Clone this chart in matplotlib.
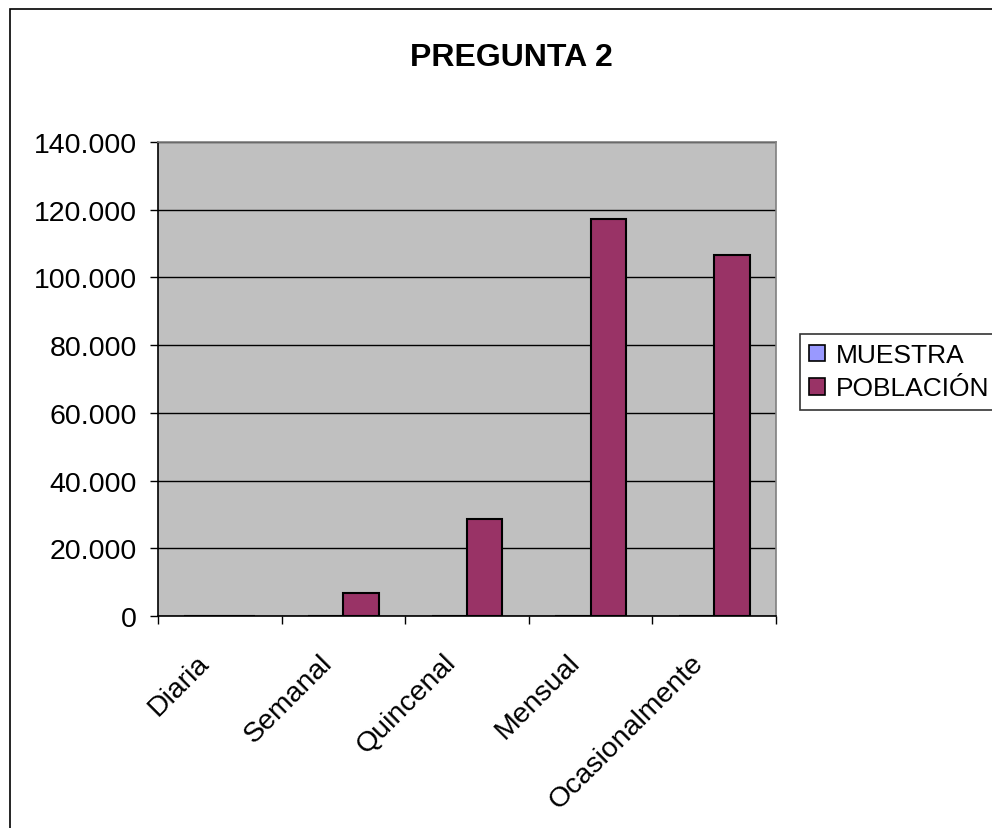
import matplotlib
matplotlib.use("Agg")
import matplotlib.pyplot as plt
from matplotlib.patches import Rectangle, Patch
from matplotlib.ticker import FuncFormatter, FixedLocator, NullFormatter
from matplotlib.transforms import ScaledTranslation
import numpy as np

plt.rcParams['font.family'] = ['Liberation Sans', 'DejaVu Sans']

categories = ["Diaria", "Semanal", "Quincenal", "Mensual", "Ocasionalmente"]
muestra = [0, 0, 0, 0, 0]
poblacion = [0, 6800, 28600, 117300, 106600]
series_names = ["MUESTRA", "POBLACIÓN"]
title = "PREGUNTA 2"

W, H = 992, 829
fig = plt.figure(figsize=(W / 100, H / 100), dpi=100)
fig.patch.set_facecolor("white")

# chart-area border (runs off the right and bottom edges)
fig.add_artist(Rectangle((10 / W, -0.1), 1.2, (H - 10) / H + 0.1,
                         transform=fig.transFigure, fill=False,
                         edgecolor="black", lw=1.2))

left, right, top, bottom = 158, 776, 143, 617
ax = fig.add_axes([left / W, (H - bottom) / H, (right - left) / W, (bottom - top) / H])
ax.set_facecolor("#C0C0C0")

n = len(categories)
centers = np.arange(n) + 0.5
bw = 1 / 3.5
ax.bar(centers - bw / 2, muestra, width=bw, color="#9999FF", edgecolor="black",
       lw=1.5, zorder=3)
ax.bar(centers + bw / 2, poblacion, width=bw, color="#993366", edgecolor="black",
       lw=1.5, zorder=3)

ax.set_xlim(0, n)
ax.set_ylim(0, 140000)
ax.set_yticks(np.arange(0, 140001, 20000))
ax.yaxis.set_major_formatter(FuncFormatter(lambda v, p: f"{int(v):,}".replace(",", ".")))
ax.grid(axis="y", color="black", lw=1, zorder=1)
ax.set_axisbelow(True)

# category boundaries carry the tick marks; names sit under each group
ax.xaxis.set_major_locator(FixedLocator(np.arange(n + 1)))
ax.xaxis.set_major_formatter(NullFormatter())
ax.tick_params(axis="x", which="major", length=6, width=1, direction="out", color="black")
ax.tick_params(axis="y", length=6, width=1, direction="out", labelsize=20.5, pad=9)

label_tf = ax.get_xaxis_transform() + ScaledTranslation(-0.24, -0.33, fig.dpi_scale_trans)
for c, cat in zip(centers, categories):
    ax.text(c, 0, cat, transform=label_tf, rotation=45, ha="right", va="top",
            rotation_mode="anchor", fontsize=20.5)

for s in ("top", "right"):
    ax.spines[s].set_color("#808080")
    ax.spines[s].set_linewidth(1.2)
for s in ("left", "bottom"):
    ax.spines[s].set_color("black")
    ax.spines[s].set_linewidth(1.2)

fig.text(511 / W, 1 - 58 / H, title, ha="center", va="center",
         fontsize=23, fontweight="bold")

handles = [Patch(facecolor="#9999FF", edgecolor="black", lw=1.2),
           Patch(facecolor="#993366", edgecolor="black", lw=1.2)]
leg = fig.legend(handles, series_names, loc="upper left",
                 bbox_to_anchor=(800 / W, 1 - 335 / H), fontsize=19,
                 frameon=True, fancybox=False, edgecolor="black",
                 handlelength=0.6, handleheight=0.6, handletextpad=0.4,
                 labelspacing=0.35, borderpad=0.35, borderaxespad=0)
leg.get_frame().set_linewidth(1.2)

fig.savefig("out.png", dpi=100)
